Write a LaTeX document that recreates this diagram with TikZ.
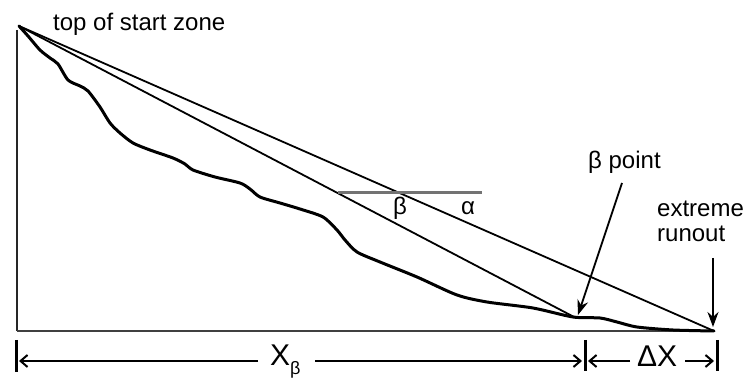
\documentclass[tikz,border=0pt]{standalone}
\usepackage{fontspec}
\setmainfont{Liberation Sans}
\usetikzlibrary{arrows.meta}
\begin{document}
\begin{tikzpicture}[x=1pt,y=-1pt,
  thinline/.style={line width=1.8pt,black},
  terrain/.style={line width=3pt,black,line join=round,line cap=round},
  label/.style={font=\fontsize{24}{26}\selectfont,inner sep=0pt},
  dimlabel/.style={font=\fontsize{30}{32}\selectfont,inner sep=0pt},
  dimline/.style={line width=2pt,-{Straight Barb[length=7pt,width=12pt,line width=2pt]}},
  tickline/.style={line width=3pt},
  pointer/.style={line width=1.8pt,-{Stealth[length=15pt,width=11pt]}}]
\useasboundingbox (0,0) rectangle (756,379);
% key points
\coordinate (T) at (19,26);
\coordinate (B) at (576,318);
\coordinate (R) at (714,331);
\coordinate (O) at (17,331);
\coordinate (V) at (17,30);
% axes
\draw[line width=2.2pt,black!85] (V) -- (O);
\draw[line width=2.2pt,black!75] (O) -- (R);
% terrain profile
\draw[terrain] plot[smooth,tension=0.45] coordinates {
 (19,26) (28,36) (40,50) (50,58) (58,64) (68,80) (80,86) (88,91) (100,107)
 (110,123) (120,133) (133,143) (150,150) (173,158) (185,164) (193,170)
 (215,177) (240,183) (250,189) (260,197) (280,203) (300,209) (323,217)
 (337,230) (345,240) (357,252) (380,262) (417,277) (457,295) (487,302)
 (533,308) (573,317) (600,318) (617,322) (637,327) (673,330) (714,331)};
% alpha and beta lines
\draw[thinline] (T) -- (B);
\draw[thinline] (T) -- (R);
% horizontal reference
\coordinate (h1) at (338,193);
\coordinate (h2) at (482,193);
\draw[line width=3pt,black!55] (h1) -- (h2);
\node[label,anchor=base] (beta) at (400,215) {β};
\node[label,anchor=base] (alpha) at (468,215) {α};
% labels
\node[label,anchor=base west] (top) at (53,31) {top of start zone};
\node[label,anchor=base west] (bp) at (588,169) {β point};
\node[label,anchor=base west] (ext) at (657,217) {extreme};
\node[label,anchor=base west] (run) at (657,242) {runout};
\coordinate (bpa) at (622,183);
\coordinate (bpt) at (578,315);
\draw[pointer] (bpa) -- (bpt);
\coordinate (ra) at (713,258);
\coordinate (rt) at (713,327);
\draw[pointer] (ra) -- (rt);
% dimension line
\coordinate (t1a) at (16,340); \coordinate (t1b) at (16,372);
\coordinate (t2a) at (585,340); \coordinate (t2b) at (585,371);
\coordinate (t3a) at (717,340); \coordinate (t3b) at (717,371);
\draw[tickline] (t1a) -- (t1b);
\draw[tickline] (t2a) -- (t2b);
\draw[tickline] (t3a) -- (t3b);
\coordinate (d1) at (258,361); \coordinate (d1t) at (19,361);
\coordinate (d2) at (315,361); \coordinate (d2t) at (582,361);
\coordinate (d3) at (630,361); \coordinate (d3t) at (588,361);
\coordinate (d4) at (685,361); \coordinate (d4t) at (714,361);
\draw[dimline] (d1) -- (d1t);
\draw[dimline] (d2) -- (d2t);
\draw[dimline] (d3) -- (d3t);
\draw[dimline] (d4) -- (d4t);
\node[dimlabel,anchor=base west] (xb) at (270,366) {X\raisebox{-0.3em}{\fontsize{18}{18}\selectfont β}};
\node[dimlabel,anchor=base west] (dx) at (637,367) {ΔX};
\end{tikzpicture}
\end{document}
